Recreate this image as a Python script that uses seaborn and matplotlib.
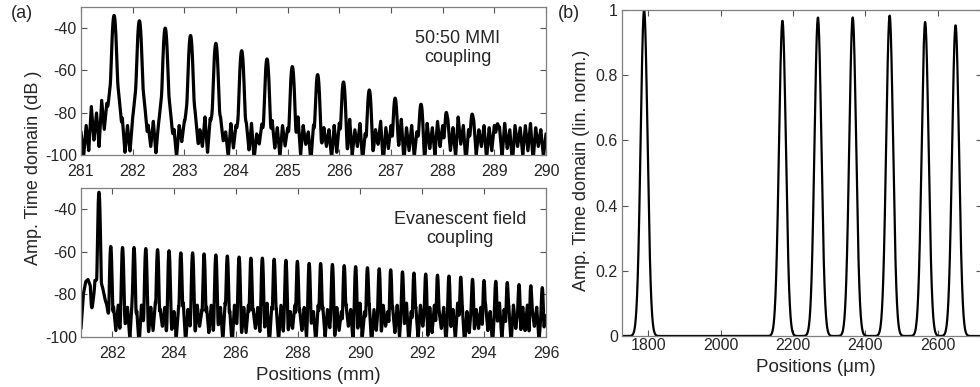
import numpy as np
import matplotlib
matplotlib.use("Agg")
import matplotlib.pyplot as plt
import seaborn as sns

# ---------------- datos ---------------- #

# (a) arriba: acoplamiento MMI 50:50 (mm, dB)
mmi_pos = [281.64, 282.13, 282.63, 283.12, 283.61, 284.11, 284.60, 285.09,
           285.58, 286.08, 286.58, 287.08, 287.58, 288.07, 288.57, 289.06]
mmi_peak = [-34.0, -36.5, -40.0, -43.5, -47.2, -50.7, -54.6, -58.2,
            -62.0, -65.5, -69.3, -73.2, -76.2, -80.0, -81.0, -86.0]
# suelo de ruido, paso 0.05 mm desde 281 hasta 290
mmi_floor = [
    -89, -101, -86, -98, -77, -93, -80, -96, -74, -88, -76, -90, -80, -97, -78, -102, -83, -99, -86, -100,
    -87, -101, -85, -97, -82, -104, -86, -96, -84, -100, -89, -95, -86, -103, -83, -98, -88, -101, -86, -94,
    -86, -102, -90, -97, -85, -104, -88, -96, -82, -100, -84, -98, -87, -103, -86, -95, -89, -101, -85, -97,
    -87, -104, -83, -96, -88, -100, -85, -102, -90, -95, -86, -99, -88, -104, -84, -97, -87, -101, -86, -96,
    -88, -103, -85, -98, -82, -100, -86, -95, -89, -104, -86, -97, -84, -101, -87, -96, -88, -102, -86, -99,
    -85, -97, -87, -104, -83, -100, -88, -96, -85, -103, -90, -98, -86, -101, -88, -95, -84, -104, -87, -97,
    -86, -100, -88, -96, -83, -103, -87, -98, -86, -101, -89, -95, -86, -104, -85, -97, -87, -100, -84, -96,
    -86, -103, -85, -98, -87, -101, -82, -95, -86, -104, -88, -97, -85, -100, -88, -96, -86, -102, -87, -98,
    -86, -95, -87, -101, -85, -97, -88, -104, -86, -96, -87, -100, -86, -98, -85, -103, -87, -96, -88, -101,
    -90]

# (a) abajo: acoplamiento por campo evanescente (mm, dB)
eva_main_pos, eva_main_peak = 281.58, -32.0
eva_pos = [281.96, 282.34, 282.71, 283.09, 283.47, 283.84, 284.22, 284.60,
           284.97, 285.35, 285.72, 286.10, 286.48, 286.85, 287.23, 287.61,
           287.98, 288.36, 288.73, 289.11, 289.49, 289.86, 290.24, 290.62,
           290.99, 291.37, 291.74, 292.12, 292.50, 292.87, 293.25, 293.63,
           294.00, 294.38, 294.75, 295.13, 295.51, 295.88]
eva_peak = [-57.5, -58.0, -58.0, -58.5, -59.0, -59.5, -60.5, -60.5,
            -61.0, -61.5, -62.0, -62.5, -63.0, -63.0, -63.5, -64.0,
            -64.5, -65.5, -65.5, -66.0, -66.5, -67.0, -67.5, -68.0,
            -68.5, -69.5, -70.0, -70.5, -71.0, -71.5, -72.0, -73.0,
            -73.5, -74.0, -74.5, -75.5, -76.0, -77.0]
# suelo de ruido, paso 0.075 mm desde 281 hasta 296
eva_floor = [
    -96, -80, -74, -73, -76, -100, -75, -78, -82, -84, -88, -86, -92,
    -100, -86, -97, -85, -103, -87, -95, -86, -101, -84, -98, -88, -104, -85, -96, -87, -100, -86, -97, -84,
    -102, -87, -95, -86, -104, -85, -98, -88, -100, -86, -96, -84, -103, -87, -97, -86, -101, -85, -95, -88,
    -104, -86, -98, -85, -100, -87, -96, -86, -102, -84, -97, -88, -104, -85, -95, -87, -101, -86, -98, -85,
    -103, -87, -96, -86, -100, -88, -97, -84, -104, -86, -95, -87, -102, -85, -98, -86, -100, -88, -96, -85,
    -104, -87, -97, -86, -101, -84, -95, -88, -103, -85, -98, -86, -100, -87, -96, -85, -104, -86, -97, -88,
    -101, -85, -95, -87, -103, -86, -98, -84, -100, -88, -96, -85, -104, -87, -97, -86, -102, -85, -95, -88,
    -104, -86, -98, -85, -100, -87, -96, -84, -103, -88, -97, -86, -101, -85, -95, -87, -104, -86, -98, -85,
    -100, -88, -96, -86, -103, -85, -97, -87, -101, -84, -95, -86, -104, -88, -98, -85, -100, -87, -96, -86,
    -102, -85, -97, -88, -104, -86, -95, -84, -101, -87, -98, -86, -103, -85, -96, -88, -100, -86, -97, -85,
    -104, -87, -95, -86, -102, -88, -97, -90]

# (b) lineal normalizado (um)
lin_pos = [1789, 2171, 2269, 2365, 2467, 2565, 2649]
lin_peak = [1.0, 0.967, 0.977, 0.977, 0.983, 0.963, 0.953]

TXT = "#262626"
sns.set_theme(style="ticks")
plt.rcParams["font.family"] = ["Liberation Sans", "DejaVu Sans"]
plt.rcParams["axes.unicode_minus"] = False


def traza_db(x, pos, peak, floor, xr, s_core, s_skirt, skirt_db):
    fx = np.linspace(xr[0], xr[1], len(floor))
    p = 10 ** (np.interp(x, fx, floor) / 10)
    for c, h in zip(pos, peak):
        d = x - c
        p = p + 10 ** (h / 10) * np.exp(-(d / s_core) ** 2)
        p = p + 10 ** ((h - skirt_db) / 10) * np.exp(-(d / s_skirt) ** 2)
    return 10 * np.log10(p)


def estilo(ax, xpad):
    for s in ax.spines.values():
        s.set_color("#7f7f7f")
        s.set_linewidth(0.9)
    ax.tick_params(direction="in", top=True, right=True, length=4,
                   width=0.8, color="#555555", labelsize=11.5,
                   labelcolor=TXT)
    ax.tick_params(axis="x", pad=xpad)
    ax.tick_params(axis="y", pad=3)


fig = plt.figure(figsize=(9.8, 3.87), dpi=100)
W, H = 980, 387


def caja(l, t, r, b):
    return fig.add_axes([l / W, 1 - b / H, (r - l) / W, (b - t) / H])


def px(x, y):
    return x / W, 1 - y / H


ax1 = caja(81, 7, 546, 155)
ax2 = caja(81, 188, 546, 337)
ax3 = caja(622, 10, 982, 336)

lw = 2.3
x1 = np.linspace(281, 290, 8000)
y1 = traza_db(x1, mmi_pos, mmi_peak, mmi_floor, (281, 290), 0.024, 0.06, 27)
sns.lineplot(x=x1, y=y1, ax=ax1, color="black", linewidth=lw,
             estimator=None, sort=False, solid_joinstyle="round")
ax1.set_xlim(281, 290)
ax1.set_ylim(-100, -30)
ax1.set_xticks(range(281, 291))
ax1.set_yticks([-100, -80, -60, -40])

x2 = np.linspace(281, 296, 10000)
y2 = traza_db(x2, eva_pos, eva_peak, eva_floor, (281, 296), 0.022, 0.04, 22)
y2m = traza_db(x2, [eva_main_pos], [eva_main_peak], [-300, -300], (281, 296),
               0.022, 0.13, 42)
y2 = 10 * np.log10(10 ** (y2 / 10) + 10 ** (y2m / 10))
sns.lineplot(x=x2, y=y2, ax=ax2, color="black", linewidth=lw,
             estimator=None, sort=False, solid_joinstyle="round")
ax2.set_xlim(281, 296)
ax2.set_ylim(-100, -30)
ax2.set_xticks(range(282, 297, 2))
ax2.set_yticks([-100, -80, -60, -40])

x3 = np.linspace(1720, 2730, 5000)
y3 = np.zeros_like(x3)
for c, h in zip(lin_pos, lin_peak):
    y3 = y3 + h * np.exp(-0.5 * ((x3 - c) / 9.5) ** 2)
sns.lineplot(x=x3, y=y3, ax=ax3, color="black", linewidth=1.6,
             estimator=None, sort=False)
ax3.set_xlim(1728, 2722)
ax3.set_ylim(0, 1)
ax3.set_xticks([1800, 2000, 2200, 2400, 2600])
ax3.set_yticks([0, 0.2, 0.4, 0.6, 0.8, 1.0])
ax3.set_yticklabels(["0", "0.2", "0.4", "0.6", "0.8", "1"])

for ax, xp in ((ax1, 6.5), (ax2, 6.5), (ax3, 1.5)):
    estilo(ax, xp)
    ax.set_xlabel("")
    ax.set_ylabel("")

fig.text(*px(458, 48), "50:50 MMI\ncoupling", fontsize=13, color=TXT,
         ha="center", va="center", linespacing=1.15)
fig.text(*px(460, 229), "Evanescent field\ncoupling", fontsize=13,
         color=TXT, ha="center", va="center", linespacing=1.15)
fig.text(*px(34, 168), "Amp. Time domain (dB )", rotation=90, fontsize=13,
         color=TXT, ha="center", va="center")
fig.text(*px(318, 375), "Positions (mm)", fontsize=13.5, color=TXT,
         ha="center", va="center")
fig.text(*px(581, 170), "Amp. Time domain (lin. norm.)", rotation=90,
         fontsize=13, color=TXT, ha="center", va="center")
fig.text(*px(816, 368), "Positions (μm)", fontsize=13.5, color=TXT,
         ha="center", va="center")
fig.text(*px(22, 14), "(a)", fontsize=13, color=TXT, ha="center", va="center")
fig.text(*px(569, 13), "(b)", fontsize=13, color=TXT, ha="center", va="center")

fig.savefig("out.png", dpi=100)
